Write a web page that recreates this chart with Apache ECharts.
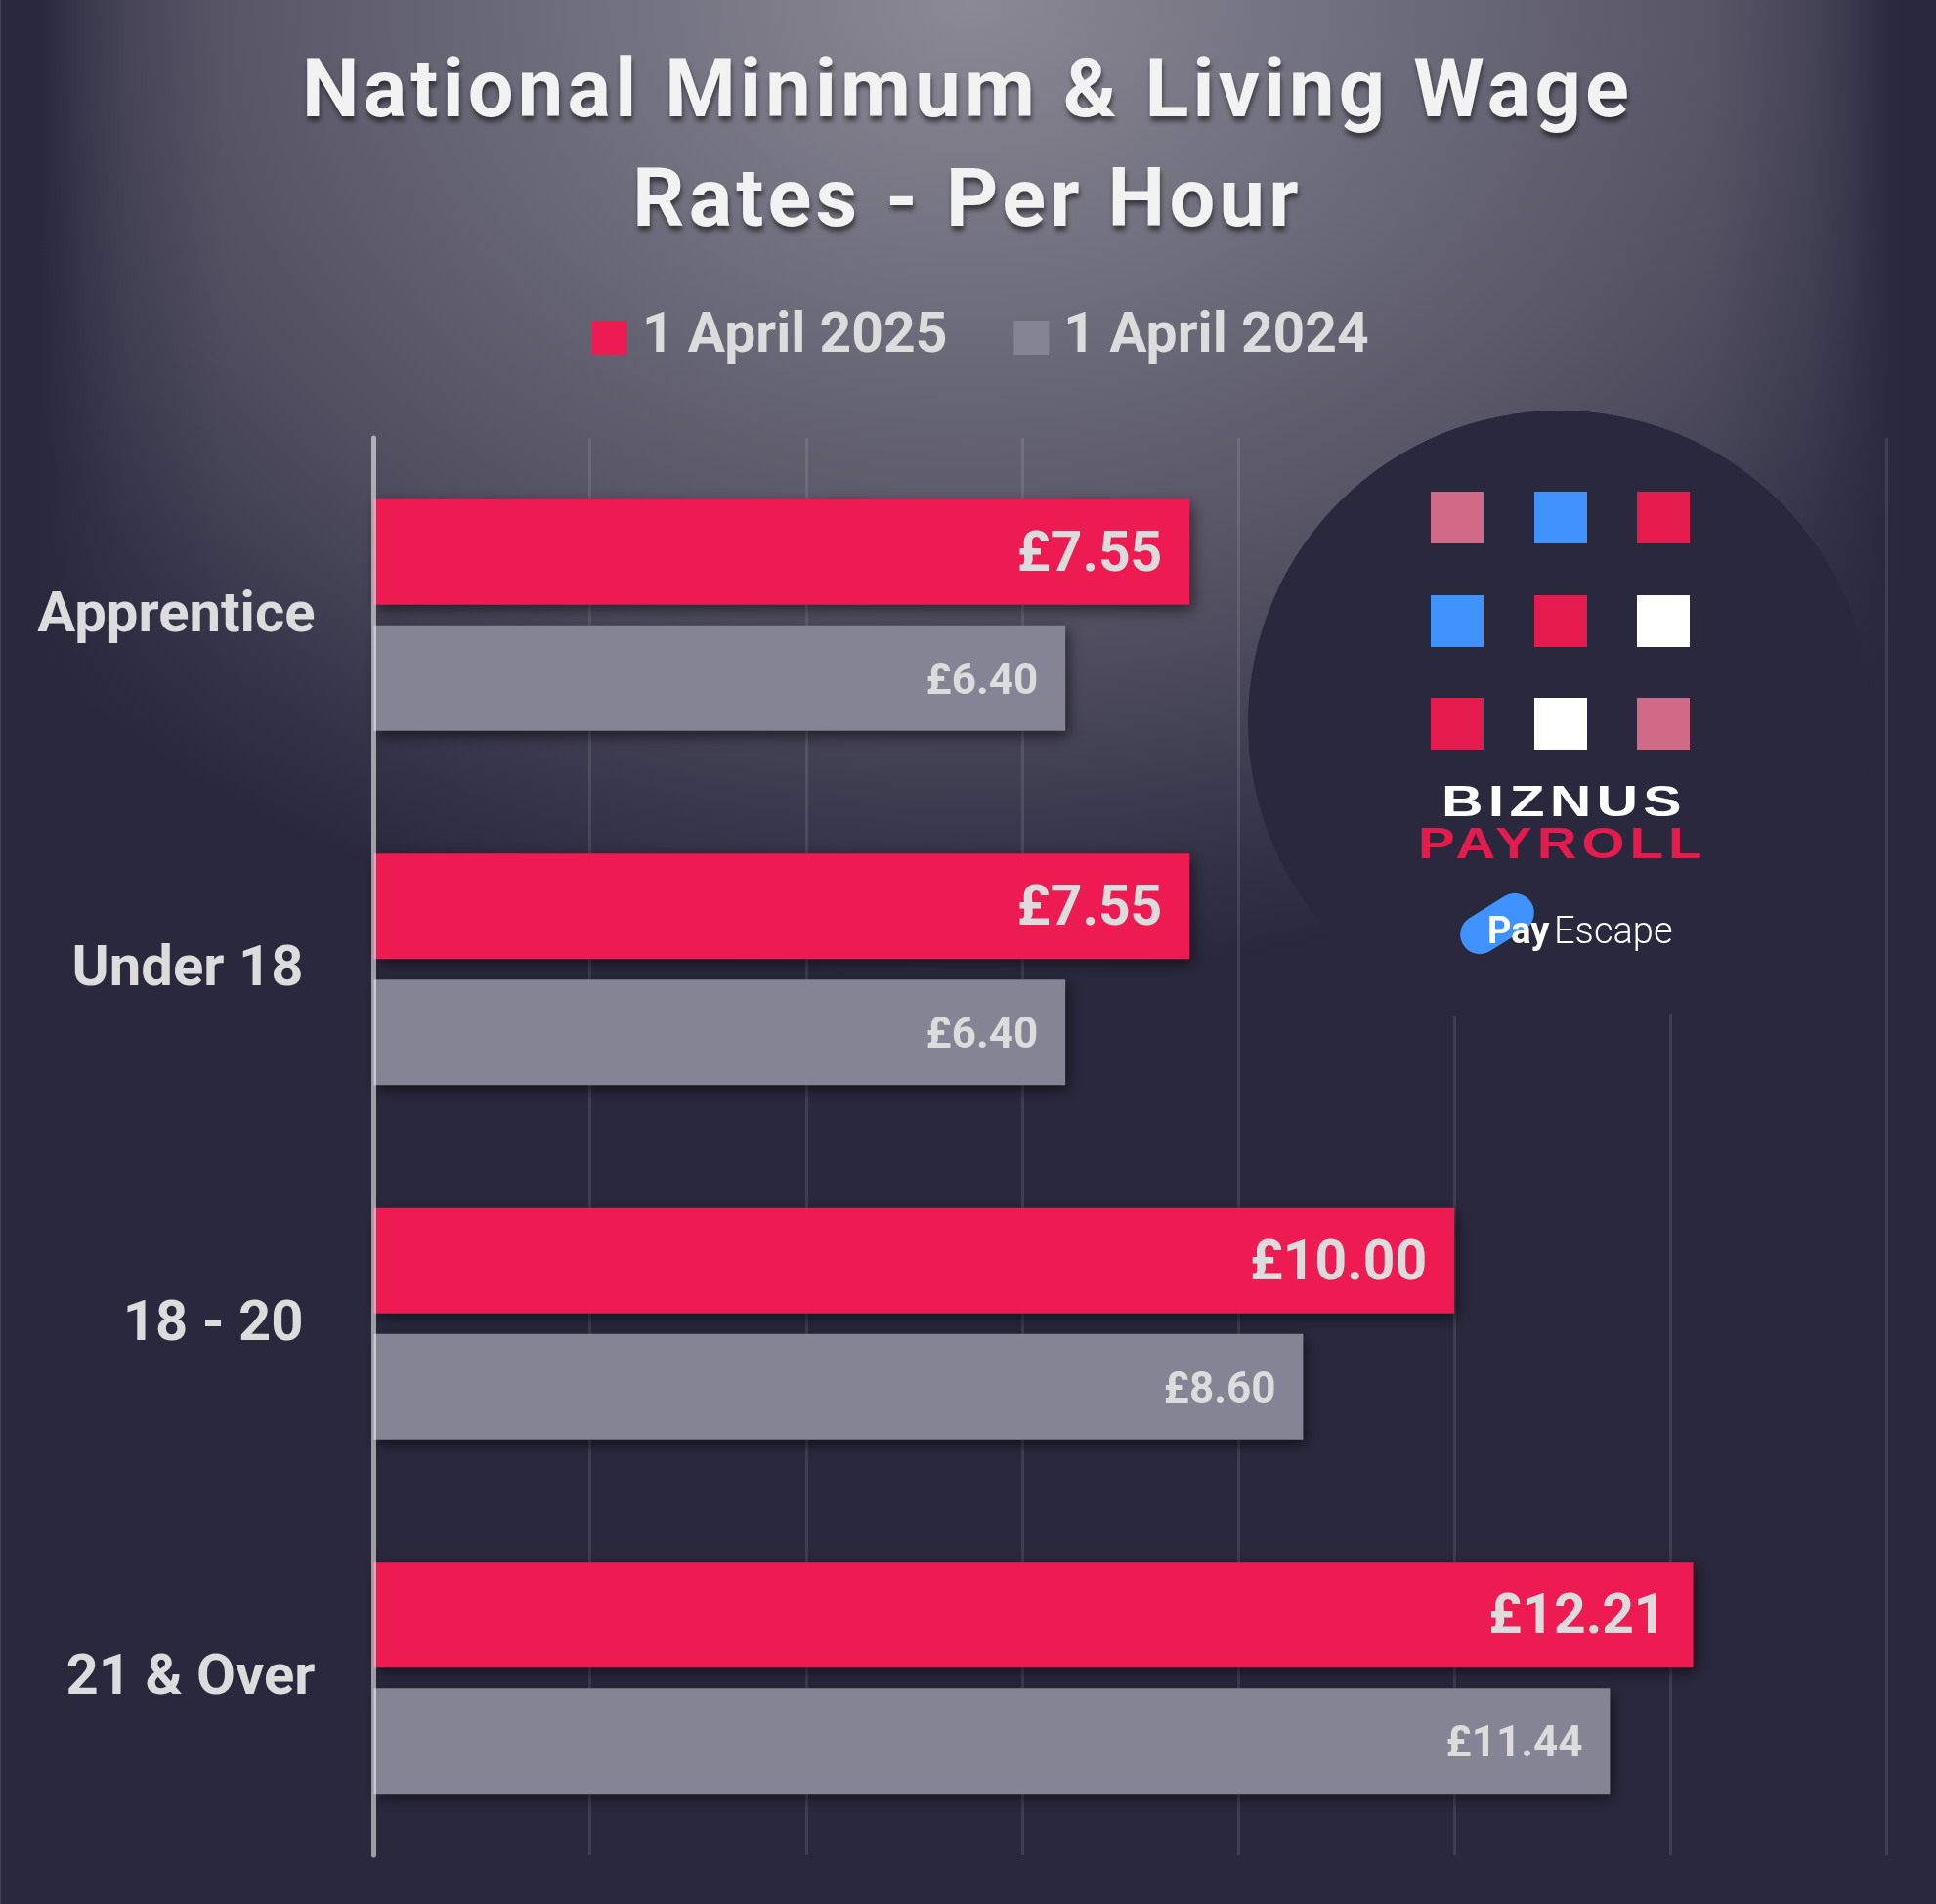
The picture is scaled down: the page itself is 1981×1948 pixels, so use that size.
<!DOCTYPE html>
<html>
<head>
<meta charset="utf-8">
<title>National Minimum & Living Wage</title>
<script src="https://cdn.jsdelivr.net/npm/echarts@6/dist/echarts.min.js"></script>
<style>
  html, body { margin: 0; padding: 0; background: #2a283d; }
  #container { width: 1981px; height: 1948px; }
</style>
</head>
<body>
<div id="container"></div>
<script>
var titleText = 'National Minimum & Living Wage\nRates - Per Hour';
var categories = ['Apprentice', 'Under 18', '18 - 20', '21 & Over'];
var seriesNames = ['1 April 2025', '1 April 2024'];
var rates2025 = [7.55, 7.55, 10.00, 12.21];
var rates2024 = [6.40, 6.40, 8.60, 11.44];
var axisMax = 14;
var axisStep = 2;

var BASE = '#2a283d';
var RED = '#ee1b52';
var GREY = '#858494';
var TEXT = '#dcdcdc';
var FONT = 'Roboto';

// zrender has no letter spacing, so set it on the context for the tracked texts
var spacingBySize = { '83px': '4.2px', '45px': '4px' };
var fillText = CanvasRenderingContext2D.prototype.fillText;
CanvasRenderingContext2D.prototype.fillText = function () {
    var size = (this.font.match(/\d+px/) || [])[0];
    this.letterSpacing = spacingBySize[size] || '0px';
    return fillText.apply(this, arguments);
};

var myChart = echarts.init(document.getElementById('container'));

// glow from the top centre, with the sides fading faster
var sideFade = function (x, w, fromLeft) {
    return {
        type: 'rect', z: -1, silent: true,
        shape: { x: x, y: 0, width: w, height: 1948 },
        style: {
            fill: {
                type: 'linear', x: fromLeft ? 0 : 1, y: 0, x2: fromLeft ? 1 : 0, y2: 0,
                colorStops: [
                    { offset: 0, color: 'rgba(42,40,61,1)' },
                    { offset: 0.17, color: 'rgba(42,40,61,1)' },
                    { offset: 0.39, color: 'rgba(42,40,61,0.5)' },
                    { offset: 0.57, color: 'rgba(42,40,61,0.25)' },
                    { offset: 1, color: 'rgba(42,40,61,0)' }
                ]
            }
        }
    };
};
var backdrop = [
    {
        type: 'rect', z: -2, silent: true, scaleY: 0.7667,
        shape: { x: 0, y: 0, width: 1981, height: 2541 },
        style: {
            fill: {
                type: 'radial', x: 990, y: 0, r: 1500, global: true,
                colorStops: [
                    { offset: 0, color: '#8b8996' },
                    { offset: 0.31, color: '#6b6a78' },
                    { offset: 0.49, color: '#5a5868' },
                    { offset: 0.66, color: '#454356' },
                    { offset: 0.75, color: '#38364a' },
                    { offset: 0.87, color: BASE },
                    { offset: 1, color: BASE }
                ]
            }
        }
    },
    sideFade(0, 230, true),
    sideFade(1751, 230, false),
    { type: 'rect', z: -1, silent: true, shape: { x: 0, y: 0, width: 1, height: 1948 }, style: { fill: 'rgba(255,255,255,0.12)' } }
];

// squares of the logo, row by row
var logoColors = [
    ['#d06a87', '#3f92ff', '#e61b4d'],
    ['#3f92ff', '#e61b4d', '#ffffff'],
    ['#e61b4d', '#ffffff', '#d06a87']
];
var logoX = [1464, 1570, 1675];
var logoY = [503, 609, 714];

var logo = [
    { type: 'circle', z: 1, silent: true, shape: { cx: 1596, cy: 739, r: 319 }, style: { fill: BASE } }
];
logoColors.forEach(function (row, r) {
    row.forEach(function (color, c) {
        logo.push({
            type: 'rect', z: 1, silent: true,
            shape: { x: logoX[c], y: logoY[r], width: 54, height: 53 },
            style: { fill: color }
        });
    });
});
logo.push({
    type: 'text', z: 1, silent: true, x: 1475, y: 845, scaleX: 1.31,
    style: { text: 'BIZNUS', fill: '#ffffff', font: '700 45px "Liberation Sans"', verticalAlign: 'bottom' }
});
logo.push({
    type: 'text', z: 1, silent: true, x: 1451, y: 888, scaleX: 1.255,
    style: { text: 'PAYROLL', fill: '#e61b4d', font: '700 45px "Liberation Sans"', verticalAlign: 'bottom' }
});
logo.push({
    type: 'rect', z: 1, silent: true, x: 1532, y: 945, rotation: 32 * Math.PI / 180,
    shape: { x: -41, y: -20, width: 82, height: 40, r: 20 },
    style: { fill: '#3f92ff' }
});
logo.push({
    type: 'text', z: 1, silent: true, x: 1522, y: 936,
    style: { text: 'Pay', fill: '#ffffff', font: '700 38px Roboto', verticalAlign: 'top' }
});
logo.push({
    type: 'text', z: 1, silent: true, x: 1590, y: 936,
    style: { text: 'Escape', fill: '#ffffff', font: '300 38px Roboto', verticalAlign: 'top' }
});

var barLabel = function (size) {
    return {
        show: true,
        position: 'insideRight',
        distance: 28,
        offset: [0, 5],
        color: TEXT,
        fontFamily: FONT,
        fontWeight: 700,
        fontSize: size,
        formatter: function (p) { return '£' + p.value.toFixed(2); }
    };
};

var barShadow = { shadowColor: 'rgba(0,0,0,0.55)', shadowBlur: 14, shadowOffsetX: 3, shadowOffsetY: 5 };

var categoryText = { color: TEXT, fontFamily: FONT, fontWeight: 700, fontSize: 58 };

var option = {
    backgroundColor: BASE,
    animation: false,
    title: {
        text: titleText,
        left: 985,
        top: 37,
        textAlign: 'center',
        textStyle: {
            color: '#f2f2f2',
            fontFamily: FONT,
            fontWeight: 700,
            fontSize: 83,
            lineHeight: 112,
            textShadowColor: 'rgba(0,0,0,0.5)',
            textShadowBlur: 5,
            textShadowOffsetX: 1,
            textShadowOffsetY: 5
        }
    },
    legend: {
        left: 601,
        top: 312,
        icon: 'rect',
        itemWidth: 36,
        itemHeight: 35,
        itemGap: 68,
        data: seriesNames,
        textStyle: { color: TEXT, fontFamily: FONT, fontWeight: 700, fontSize: 57, padding: [2, 0, 0, 10] }
    },
    grid: { left: 382.5, right: 50.5, top: 448, bottom: 50 },
    xAxis: {
        type: 'value',
        min: 0,
        max: axisMax,
        interval: axisStep,
        axisLabel: { show: false },
        axisLine: { show: false },
        axisTick: { show: false },
        splitLine: { showMinLine: false, lineStyle: { color: 'rgba(255,255,255,0.1)', width: 3 } }
    },
    yAxis: {
        type: 'category',
        inverse: true,
        z: 3,
        data: categories,
        axisTick: { show: false },
        axisLine: { lineStyle: { color: 'rgba(255,255,255,0.55)', width: 5 } },
        axisLabel: {
            margin: 60,
            formatter: function (value, index) {
                return (index === 1 || index === 2 ? '{short|' : '{long|') + value + '}';
            },
            rich: {
                long: Object.assign({ padding: [4, 0, 0, 0] }, categoryText),
                short: Object.assign({ padding: [4, 12, 0, 0] }, categoryText)
            }
        }
    },
    graphic: backdrop.concat(logo),
    series: [
        {
            name: seriesNames[0],
            type: 'bar',
            data: rates2025,
            barWidth: 108,
            barGap: '19.5%',
            itemStyle: Object.assign({ color: RED }, barShadow),
            label: barLabel(57)
        },
        {
            name: seriesNames[1],
            type: 'bar',
            data: rates2024,
            barWidth: 108,
            itemStyle: Object.assign({ color: GREY }, barShadow),
            label: barLabel(44)
        }
    ]
};
myChart.setOption(option);
</script>
</body>
</html>
